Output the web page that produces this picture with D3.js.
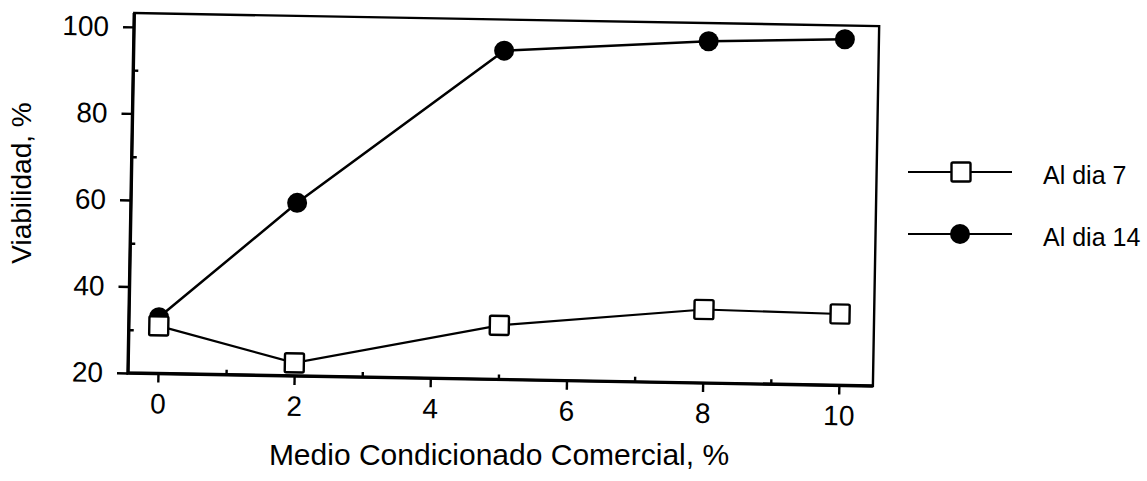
<!DOCTYPE html>
<html>
<head>
<meta charset="utf-8">
<script src="https://cdn.jsdelivr.net/npm/d3@7"></script>
<style>
  body { margin: 0; background: #fff; }
  svg text { font-family: "Liberation Sans", Arial, sans-serif; fill: #000; }
</style>
</head>
<body>
<div id="chart"></div>
<script>
var concentrations = [0, 2, 5, 8, 10]
var viabilityDay7 = [31, 23, 32.5, 37, 36.5]
var viabilityDay14 = [33, 60, 96, 99, 100]
var xTicks = [0, 2, 4, 6, 8, 10]
var xMinorTicks = [1, 3, 5, 7, 9]
var yTicks = [20, 40, 60, 80, 100]
var yMinorTicks = [30, 50, 70, 90]
var seriesNames = ['Al dia 7', 'Al dia 14']
var xTitle = 'Medio Condicionado Comercial, %'
var yTitle = 'Viabilidad, %'

var W = 1147
var H = 481
// the scanned original sits about one degree off square
var plot = { left: 128, bottom: 373, width: 745, height: 360, tilt: 1 }

var svg = d3.select('#chart').append('svg')
  .attr('width', W)
  .attr('height', H)

var x = d3.scaleLinear().domain([-0.44, 10.5]).range([0, plot.width])
var y = d3.scaleLinear().domain([20, 103.2]).range([0, -plot.height])

var g = svg.append('g')
  .attr('transform', 'translate(' + plot.left + ',' + plot.bottom + ') rotate(' + plot.tilt + ')')

// frame: thin top/right, heavier left/bottom
g.append('rect')
  .attr('x', 0)
  .attr('y', -plot.height)
  .attr('width', plot.width)
  .attr('height', plot.height)
  .attr('fill', 'none')
  .attr('stroke', '#000')
  .attr('stroke-width', 2.4)
g.append('path')
  .attr('d', 'M0,' + (-plot.height) + 'V0H' + plot.width)
  .attr('fill', 'none')
  .attr('stroke', '#000')
  .attr('stroke-width', 3.4)

function styleAxis (sel) {
  sel.select('.domain').remove()
  sel.attr('font-size', 28).attr('font-family', '"Liberation Sans", Arial, sans-serif')
  sel.selectAll('.tick line').attr('stroke-width', 2.4)
}

g.append('g')
  .attr('class', 'x axis')
  .call(d3.axisBottom(x).tickValues(xTicks).tickSize(9).tickPadding(11).tickFormat(d3.format('d')))
  .call(styleAxis)
g.append('g')
  .attr('class', 'x minor')
  .call(d3.axisBottom(x).tickValues(xMinorTicks).tickSize(-5).tickFormat(''))
  .call(styleAxis)

g.append('g')
  .attr('class', 'y axis')
  .call(d3.axisLeft(y).tickValues(yTicks).tickSize(11).tickPadding(14).tickFormat(d3.format('d')))
  .call(styleAxis)
g.append('g')
  .attr('class', 'y minor')
  .call(d3.axisLeft(y).tickValues(yMinorTicks).tickSize(-5).tickFormat(''))
  .call(styleAxis)

var line = d3.line()
  .x(function (d) { return x(d[0]) })
  .y(function (d) { return y(d[1]) })

var day7 = d3.zip(concentrations, viabilityDay7)
var day14 = d3.zip(concentrations, viabilityDay14)

var data = g.append('g').attr('class', 'data')
data.append('path').datum(day14).attr('d', line)
  .attr('fill', 'none').attr('stroke', '#000').attr('stroke-width', 2.5)
data.append('path').datum(day7).attr('d', line)
  .attr('fill', 'none').attr('stroke', '#000').attr('stroke-width', 2.2)

data.selectAll('circle.day14').data(day14).enter().append('circle')
  .attr('class', 'day14')
  .attr('cx', function (d) { return x(d[0]) })
  .attr('cy', function (d) { return y(d[1]) })
  .attr('r', 10)
  .attr('fill', '#000')

var sq = 19
data.selectAll('rect.day7').data(day7).enter().append('rect')
  .attr('class', 'day7')
  .attr('x', function (d) { return x(d[0]) - sq / 2 })
  .attr('y', function (d) { return y(d[1]) - sq / 2 })
  .attr('width', sq)
  .attr('height', sq)
  .attr('rx', 1.5)
  .attr('fill', '#fff')
  .attr('stroke', '#000')
  .attr('stroke-width', 2.4)

// axis titles
svg.append('text')
  .attr('x', 499)
  .attr('y', 465)
  .attr('text-anchor', 'middle')
  .attr('font-size', 30)
  .text(xTitle)

svg.append('text')
  .attr('transform', 'translate(31,183) rotate(-90)')
  .attr('text-anchor', 'middle')
  .attr('font-size', 28)
  .text(yTitle)

// legend
var legendY = d3.scalePoint().domain(seriesNames).range([172, 234])
var legend = svg.append('g').attr('class', 'legend')
var rows = legend.selectAll('g').data(seriesNames).enter().append('g')
  .attr('transform', function (d) { return 'translate(0,' + legendY(d) + ')' })

rows.append('line')
  .attr('x1', 908).attr('x2', 1012)
  .attr('stroke', '#000').attr('stroke-width', 2.2)
rows.append('text')
  .attr('x', 1043)
  .attr('y', 12)
  .attr('font-size', 25)
  .text(function (d) { return d })

rows.filter(function (d, i) { return i === 0 }).append('rect')
  .attr('x', 961 - sq / 2).attr('y', -sq / 2)
  .attr('width', sq).attr('height', sq).attr('rx', 1.5)
  .attr('fill', '#fff').attr('stroke', '#000').attr('stroke-width', 2.4)
rows.filter(function (d, i) { return i === 1 }).append('circle')
  .attr('cx', 960).attr('r', 10).attr('fill', '#000')
</script>
</body>
</html>
